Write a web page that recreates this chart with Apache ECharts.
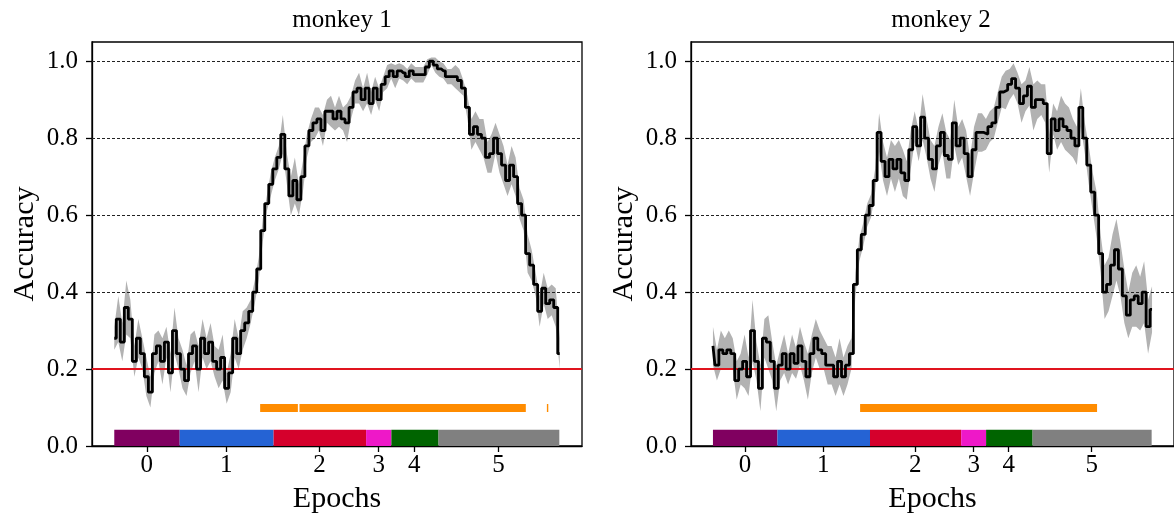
<!DOCTYPE html>
<html><head><meta charset="utf-8">
<script src="https://cdn.jsdelivr.net/npm/echarts@6/dist/echarts.min.js"></script>
<style>html,body{margin:0;padding:0;background:#fff}#c{width:1174px;height:519px}</style>
</head><body><div id="c"></div>
<script>
const titles = ['monkey 1', 'monkey 2'];
const xName = 'Epochs';
const yName = 'Accuracy';
const epochLabels = ['0', '1', '2', '3', '4', '5'];
const epochTicks = [16.2, 55.8, 102.3, 131.8, 149.5, 191.5];
const epochBounds = [0, 32.6, 79.4, 125.5, 138.1, 161.6, 221.8];
const epochColors = ['#800060', '#2563d4', '#d5002c', '#ee18c8', '#006400', '#808080'];
const yTicks = [0, 0.2, 0.4, 0.6, 0.8, 1.0];
const gridLevels = [0.4, 0.6, 0.8, 1.0];
const chanceLevel = 0.2;
const sigLevel = 0.1;
const epochBarTop = 0.042;
const timeStep = 2;

const m1Mean = [0.28,0.33,0.27,0.36,0.33,0.22,0.28,0.24,0.18,0.14,
  0.24,0.26,0.22,0.27,0.19,0.30,0.24,0.20,0.17,0.24,
  0.26,0.20,0.28,0.24,0.27,0.22,0.20,0.23,0.15,0.19,
  0.28,0.24,0.30,0.32,0.35,0.40,0.46,0.56,0.63,0.68,
  0.72,0.75,0.81,0.72,0.65,0.69,0.64,0.70,0.78,0.82,
  0.84,0.85,0.82,0.87,0.87,0.85,0.87,0.85,0.84,0.88,
  0.92,0.93,0.90,0.93,0.89,0.93,0.90,0.94,0.96,0.975,
  0.96,0.975,0.97,0.96,0.975,0.965,0.965,0.965,0.985,1.0,
  0.99,0.98,0.975,0.96,0.96,0.96,0.95,0.93,0.88,0.81,
  0.83,0.81,0.80,0.75,0.76,0.80,0.76,0.73,0.69,0.73,
  0.70,0.63,0.60,0.50,0.47,0.42,0.35,0.41,0.37,0.38,
  0.36,0.24];
const m1Err = [0.03,0.06,0.05,0.07,0.05,0.04,0.05,0.04,0.05,0.04,
  0.05,0.04,0.06,0.04,0.05,0.06,0.04,0.05,0.04,0.05,
  0.04,0.06,0.05,0.04,0.05,0.04,0.05,0.06,0.04,0.05,
  0.05,0.04,0.05,0.04,0.03,0.03,0.03,0.03,0.02,0.03,
  0.03,0.03,0.05,0.04,0.05,0.06,0.04,0.04,0.03,0.03,
  0.04,0.03,0.04,0.03,0.04,0.03,0.04,0.03,0.05,0.03,
  0.03,0.04,0.03,0.04,0.03,0.03,0.03,0.02,0.03,0.02,
  0.03,0.02,0.02,0.02,0.02,0.02,0.02,0.02,0.02,0.01,
  0.02,0.02,0.02,0.02,0.02,0.03,0.03,0.02,0.03,0.04,
  0.04,0.04,0.05,0.04,0.05,0.04,0.05,0.05,0.04,0.05,
  0.05,0.04,0.04,0.05,0.04,0.03,0.04,0.04,0.04,0.04,
  0.05,0.04];
const m2Mean = [0.26,0.21,0.25,0.24,0.25,0.24,0.17,0.20,0.22,0.18,
  0.30,0.22,0.15,0.28,0.27,0.22,0.15,0.21,0.24,0.20,
  0.24,0.215,0.26,0.22,0.18,0.24,0.28,0.25,0.24,0.21,
  0.21,0.18,0.22,0.18,0.21,0.24,0.42,0.51,0.55,0.60,
  0.625,0.69,0.815,0.74,0.70,0.745,0.72,0.745,0.71,0.69,
  0.77,0.83,0.78,0.855,0.80,0.745,0.72,0.78,0.815,0.755,
  0.745,0.84,0.78,0.80,0.76,0.70,0.77,0.815,0.815,0.81,
  0.83,0.84,0.88,0.92,0.925,0.94,0.955,0.93,0.89,0.91,
  0.935,0.88,0.90,0.90,0.89,0.76,0.85,0.82,0.85,0.83,
  0.82,0.80,0.78,0.88,0.80,0.73,0.66,0.60,0.50,0.40,
  0.42,0.47,0.51,0.46,0.39,0.34,0.38,0.39,0.37,0.40,
  0.31,0.355];
const m2Err = [0.05,0.04,0.05,0.04,0.05,0.04,0.05,0.04,0.07,0.05,
  0.08,0.05,0.06,0.05,0.07,0.05,0.06,0.04,0.05,0.04,
  0.05,0.04,0.05,0.05,0.06,0.05,0.05,0.05,0.04,0.05,
  0.05,0.05,0.06,0.05,0.05,0.04,0.03,0.03,0.03,0.03,
  0.03,0.03,0.05,0.05,0.05,0.05,0.06,0.05,0.06,0.05,
  0.05,0.04,0.04,0.06,0.05,0.05,0.06,0.05,0.05,0.06,
  0.05,0.06,0.05,0.05,0.06,0.05,0.06,0.05,0.05,0.04,
  0.04,0.04,0.04,0.04,0.05,0.04,0.04,0.04,0.05,0.04,
  0.05,0.06,0.05,0.04,0.05,0.05,0.04,0.05,0.06,0.06,
  0.06,0.05,0.05,0.05,0.04,0.05,0.05,0.06,0.05,0.07,
  0.07,0.08,0.08,0.07,0.07,0.06,0.07,0.08,0.07,0.08,
  0.07,0.06];
const m1Sig = [[72.7, 91.5], [92.3, 205.1], [215.6, 216.3]];
const m2Sig = [[74.4, 194.2]];

const FONT = 'Liberation Serif';
const gridPos = [{left: 92, top: 42, width: 490, height: 405}, {left: 691, top: 42, width: 490, height: 405}];
const panels = [
  {mean: m1Mean, err: m1Err, sig: m1Sig},
  {mean: m2Mean, err: m2Err, sig: m2Sig}
];

const chart = echarts.init(document.getElementById('c'), null, {renderer: 'canvas'});

const grids = [], xAxes = [], yAxes = [], series = [], titleList = [];
panels.forEach((p, k) => {
  const g = gridPos[k];
  grids.push(Object.assign({show: true, borderColor: '#000', borderWidth: 1.3, backgroundColor: 'transparent', containLabel: false}, g));
  titleList.push({text: titles[k], left: g.left + g.width / 2, top: 3, textAlign: 'center',
    textStyle: {fontFamily: FONT, fontWeight: 'normal', fontSize: 25, color: '#000'}});
  xAxes.push({type: 'value', gridIndex: k, min: -11.1, max: 233.1,
    name: xName, nameLocation: 'middle', nameGap: 38,
    nameTextStyle: {fontFamily: FONT, fontSize: 30, color: '#000'},
    axisLine: {show: true, onZero: false, lineStyle: {color: '#000', width: 1.3}},
    axisTick: {show: true, inside: false, length: 6, customValues: epochTicks, lineStyle: {color: '#000', width: 1.3}},
    axisLabel: {customValues: epochTicks, margin: 7, fontFamily: FONT, fontSize: 25, color: '#000',
      formatter: v => { const i = epochTicks.findIndex(t => Math.abs(t - v) < 1e-6); return i >= 0 ? epochLabels[i] : ''; }},
    splitLine: {show: false}});
  yAxes.push({type: 'value', gridIndex: k, min: 0, max: 1.05,
    name: yName, nameLocation: 'middle', nameGap: 52, nameRotate: 90,
    nameTextStyle: {fontFamily: FONT, fontSize: 30, color: '#000'},
    axisLine: {show: true, onZero: false, lineStyle: {color: '#000', width: 1.3}},
    axisTick: {show: true, inside: false, length: 6, customValues: yTicks, lineStyle: {color: '#000', width: 1.3}},
    axisLabel: {customValues: yTicks, margin: 14, fontFamily: FONT, fontSize: 25, color: '#000',
      formatter: v => v.toFixed(1)},
    splitLine: {show: false}});

  const mlData = [];
  gridLevels.forEach(v => mlData.push({yAxis: v, lineStyle: {color: '#222', type: [3, 2], width: 1}}));
  mlData.push({yAxis: chanceLevel, lineStyle: {color: '#e0141e', type: 'solid', width: 2}});
  p.sig.forEach(s => mlData.push([{coord: [s[0], sigLevel]}, {coord: [s[1], sigLevel], lineStyle: {color: '#ff8c00', type: 'solid', width: 8, cap: 'butt'}}]));
  const maData = epochColors.map((c, i) => [
    {coord: [epochBounds[i], 0], itemStyle: {color: c}},
    {coord: [epochBounds[i + 1], epochBarTop]}
  ]);
  series.push({type: 'line', xAxisIndex: k, yAxisIndex: k, data: [], z: 1, silent: true, symbol: 'none',
    markLine: {silent: true, symbol: ['none', 'none'], label: {show: false}, animation: false, data: mlData},
    markArea: {silent: true, label: {show: false}, animation: false, data: maData}});

  const rows = p.mean.map((m, i) => [i * timeStep, m - p.err[i], m + p.err[i]]);
  series.push({type: 'custom', xAxisIndex: k, yAxisIndex: k, data: rows, z: 2, silent: true,
    encode: {x: 0, y: [1, 2]},
    renderItem: (params, api) => {
      if (params.dataIndex !== 0) return null;
      const up = rows.map(r => api.coord([r[0], r[2]]));
      const lo = rows.map(r => api.coord([r[0], r[1]])).reverse();
      return {type: 'polygon', shape: {points: up.concat(lo)}, style: {fill: '#b2b2b2'}};
    }});
  series.push({type: 'line', xAxisIndex: k, yAxisIndex: k, z: 5, silent: true, symbol: 'none',
    step: 'middle',
    data: p.mean.map((m, i) => [i * timeStep, m]),
    lineStyle: {color: '#000', width: 2.8}});
});

chart.setOption({animation: false, backgroundColor: '#fff', title: titleList, grid: grids, xAxis: xAxes, yAxis: yAxes, series: series});
</script></body></html>
